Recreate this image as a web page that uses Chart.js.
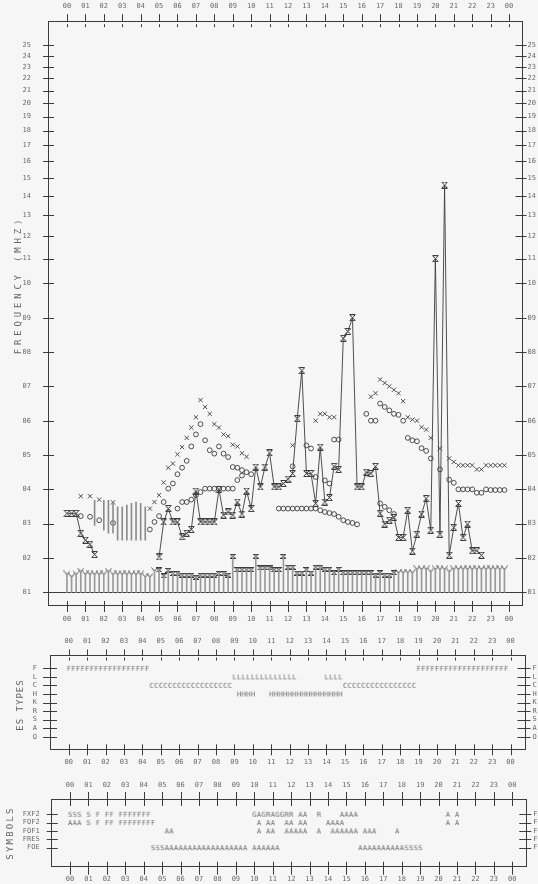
<!DOCTYPE html>
<html>
<head>
<meta charset="utf-8">
<title>Ionospheric daily summary</title>
<script src="https://cdn.jsdelivr.net/npm/chart.js@4.4.1/dist/chart.umd.min.js"></script>
<style>
  html, body { margin: 0; background: #f6f6f6; }
  #page { position: relative; width: 538px; height: 884px; overflow: hidden; }
  canvas { position: absolute; left: 0; }
  .title { position: absolute; color: #666; font: 9px "DejaVu Sans Mono", monospace; white-space: nowrap; transform: translate(-50%, -50%) rotate(-90deg); }
</style>
</head>
<body>
<div id="page">
  <canvas id="freq" width="538" height="632" style="top:0"></canvas>
  <canvas id="estypes" width="538" height="138" style="top:632px"></canvas>
  <canvas id="symbols" width="538" height="114" style="top:770px"></canvas>
  <div class="title" style="left:18px; top:285px; letter-spacing:3.8px">FREQUENCY (MHZ)</div>
  <div class="title" style="left:20px; top:705px; letter-spacing:1px">ES TYPES</div>
  <div class="title" style="left:10px; top:833px; letter-spacing:2.2px">SYMBOLS</div>
</div>
<script>
// ---- data -------------------------------------------------------------
var HOUR_TICKS = [0,1,2,3,4,5,6,7,8,9,10,11,12,13,14,15,16,17,18,19,20,21,22,23,24];
var HOUR_LABELS = ['00','01','02','03','04','05','06','07','08','09','10','11','12',
                   '13','14','15','16','17','18','19','20','21','22','23','00'];
var MHZ_TICKS = [1,2,3,4,5,6,7,8,9,10,11,12,13,14,15,16,17,18,19,20,21,22,23,24,25];
var ES_TYPE_ROWS = ['F','L','C','H','K','R','S','A','O'];
var SYMBOL_ROWS = ['FXF2','FOF2','FOF1','FRES','FOE'];

// fxF2 (x), foF2 (o), foF1 (o) : [hour, MHz]
var fxF2 = [[0.75,3.8],[1.25,3.8],[1.75,3.7],[2.5,3.62],
  [4.5,3.44],[4.75,3.63],[5,3.83],[5.25,4.2],[5.5,4.63],[5.75,4.75],[6,5.02],[6.25,5.23],
  [6.5,5.5],[6.75,5.8],[7,6.1],[7.25,6.6],[7.5,6.4],[7.75,6.2],[8,5.9],[8.25,5.8],[8.5,5.6],
  [8.75,5.55],[9,5.3],[9.25,5.25],[9.5,5.05],[9.75,4.95],
  [12.25,5.28],[13.5,6.0],[13.75,6.2],[14,6.2],[14.25,6.1],[14.5,6.1],
  [16.5,6.7],[16.75,6.8],[17,7.2],[17.25,7.1],[17.5,7.0],[17.75,6.9],
  [18,6.8],[18.25,6.57],[18.5,6.1],[18.75,6.03],[19,6.0],[19.25,5.81],[19.5,5.74],[19.75,5.5],
  [20.25,5.19],[20.75,4.9],[21,4.8],[21.25,4.7],[21.5,4.7],[21.75,4.7],[22,4.7],[22.25,4.58],
  [22.5,4.58],[22.75,4.7],[23,4.7],[23.25,4.7],[23.5,4.7],[23.75,4.7]];
var foF2 = [[0.75,3.22],[1.25,3.2],[1.75,3.1],[2.5,3.02],
  [4.5,2.83],[4.75,3.05],[5,3.22],[5.25,3.63],[5.5,4.02],[5.75,4.17],[6,4.44],[6.25,4.63],
  [6.5,4.83],[6.75,5.25],[7,5.6],[7.25,5.9],[7.5,5.43],[7.75,5.14],[8,5.04],[8.25,5.25],
  [8.5,5.04],[8.75,4.94],[9,4.65],[9.25,4.63],[9.5,4.56],[9.75,4.5],[10,4.44],
  [12.25,4.67],[13,5.28],[13.25,5.19],[13.5,4.36],[14,4.26],[14.25,4.17],[14.5,5.45],[14.75,5.45],
  [16.25,6.2],[16.5,6.0],[16.75,6.0],[17,6.5],[17.25,6.4],[17.5,6.3],[17.75,6.2],
  [18,6.17],[18.25,6.0],[18.5,5.5],[18.75,5.43],[19,5.4],[19.25,5.2],[19.5,5.12],[19.75,4.9],
  [20.25,4.58],[20.75,4.28],[21,4.19],[21.25,4.0],[21.5,4.0],[21.75,4.0],[22,4.0],[22.25,3.9],
  [22.5,3.9],[22.75,4.0],[23,3.98],[23.25,3.98],[23.5,3.98],[23.75,3.98]];
var foF1 = [[6,3.44],[6.25,3.63],[6.5,3.63],[6.75,3.7],[7,3.83],[7.25,3.92],[7.5,4.02],
  [7.75,4.02],[8,4.02],[8.25,4.02],[8.5,4.02],[8.75,4.02],[9,4.02],[9.25,4.27],[9.5,4.4],
  [11.5,3.44],[11.75,3.44],[12,3.44],[12.25,3.44],[12.5,3.44],[12.75,3.44],[13,3.44],[13.25,3.44],
  [13.5,3.44],[13.75,3.39],[14,3.34],[14.25,3.31],[14.5,3.28],[14.75,3.2],[15,3.1],[15.25,3.05],
  [15.5,3.02],[15.75,2.98],[17,3.59],[17.25,3.49],[17.5,3.39],[17.75,3.28]];

// top Es frequency, joined by a line (null = break)
var foEs = [[0,3.3],[0.25,3.3],[0.5,3.3],[0.75,2.72],[1,2.52],[1.25,2.4],[1.5,2.1],[1.75,null],
  [5,2.03],[5.25,3.05],[5.5,3.44],[5.75,3.05],[6,3.05],[6.25,2.62],[6.5,2.72],[6.75,2.83],
  [7,3.95],[7.25,3.05],[7.5,3.05],[7.75,3.05],[8,3.05],[8.25,4.0],[8.5,3.25],[8.75,3.34],
  [9,3.25],[9.25,3.63],[9.5,3.28],[9.75,3.95],[10,3.44],[10.25,4.65],[10.5,4.07],[10.75,4.65],
  [11,5.06],[11.25,4.07],[11.5,4.07],[11.75,4.17],[12,4.3],[12.25,4.46],[12.5,6.06],[12.75,7.46],
  [13,4.46],[13.25,4.46],[13.5,3.59],[13.75,5.23],[14,3.63],[14.25,3.76],[14.5,4.67],[14.75,4.58],
  [15,8.4],[15.25,8.6],[15.5,9.0],[15.75,4.07],[16,4.07],[16.25,4.5],[16.5,4.46],[16.75,4.67],
  [17,3.3],[17.25,2.99],[17.5,3.1],[17.75,3.18],[18,2.6],[18.25,2.6],[18.5,3.39],[18.75,2.2],
  [19,2.69],[19.25,3.28],[19.5,3.73],[19.75,2.81],[20,11.0],[20.25,2.69],[20.5,14.6],[20.75,2.08],
  [21,2.89],[21.25,3.59],[21.5,2.6],[21.75,2.99],[22,2.21],[22.25,2.21],[22.5,2.08]];

// spread F range : [hour, low MHz, high MHz]
var spreadF = [[1.5,2.95,3.68],[2,2.81,3.68],[2.25,2.72,3.68],[2.5,2.72,3.62],[2.75,2.52,3.49],
  [3,2.52,3.49],[3.25,2.52,3.54],[3.5,2.52,3.59],[3.75,2.52,3.63],[4,2.52,3.59],[4.25,2.52,3.49]];

// fmin every quarter hour from 00:00
var fmin = [1.55,1.48,1.55,1.63,1.55,1.55,1.55,1.55,1.55,1.63,1.55,1.55,1.55,1.55,1.55,1.55,
  1.55,1.48,1.48,1.65,1.65,1.48,1.64,1.55,1.55,1.5,1.5,1.5,1.44,1.5,1.5,1.5,
  1.5,1.55,1.55,1.5,2.05,1.66,1.66,1.66,1.66,2.05,1.71,1.71,1.71,1.66,1.66,2.05,
  1.73,1.73,1.56,1.56,1.66,1.56,1.73,1.73,1.67,1.67,1.57,1.67,1.57,1.57,1.57,1.57,
  1.57,1.57,1.57,1.5,1.57,1.5,1.5,1.57,1.6,1.6,1.6,1.6,1.7,1.7,1.7,1.63,
  1.7,1.7,1.7,1.63,1.7,1.7,1.7,1.7,1.7,1.7,1.7,1.7,1.7,1.7,1.7,1.7];

// letter runs: [row, first quarter-hour index, text]
var esTypeRuns = [['F',0,'FFFFFFFFFFFFFFFFFF'],['F',76,'FFFFFFFFFFFFFFFFFFFF'],
  ['L',36,'LLLLLLLLLLLLLL'],['L',56,'LLLL'],
  ['C',18,'CCCCCCCCCCCCCCCCCC'],['C',60,'CCCCCCCCCCCCCCCC'],
  ['H',37,'HHHH'],['H',44,'HHHHHHHHHHHHHHHH']];
var symbolRuns = [['FXF2',0,'SSS S F FF FFFFFFF'],['FXF2',40,'GAGRAGGRR AA  R    AAAA'],['FXF2',82,'A A'],
  ['FOF2',0,'AAA S F FF FFFFFFFF'],['FOF2',41,'A AA  AA AA    AAAA'],['FOF2',82,'A A'],
  ['FOF1',21,'AA'],['FOF1',41,'A AA  AAAAA  A  AAAAAA AAA    A'],
  ['FOE',18,'SSSAAAAAAAAAAAAAAAAAA'],['FOE',40,'AAAAAA'],['FOE',63,'AAAAAAAAAASSSS']];

// ---- look -------------------------------------------------------------
var INK = '#3c3c3c';
var TEXT = '#6a6a6a';
var TICK_FONT = { family: 'DejaVu Sans Mono', size: 7 };

function glyph(w, h, draw) {
  var c = document.createElement('canvas');
  c.width = w; c.height = h;
  var g = c.getContext('2d');
  g.strokeStyle = INK; g.fillStyle = TEXT; g.lineWidth = 1;
  draw(g);
  return c;
}
function letter(ch) {
  return glyph(6, 9, function (g) {
    g.font = '7px "DejaVu Sans Mono"';
    g.textAlign = 'center'; g.textBaseline = 'middle';
    g.fillText(ch, 3, 5);
  });
}
var HOURGLASS = glyph(7, 7, function (g) {
  g.beginPath();
  g.moveTo(0.5, 0.5); g.lineTo(6.5, 0.5); g.moveTo(0.5, 6.5); g.lineTo(6.5, 6.5);
  g.moveTo(1, 1); g.lineTo(6, 6); g.moveTo(6, 1); g.lineTo(1, 6);
  g.stroke();
});
var SMALL_HOURGLASS = glyph(6, 5, function (g) {
  g.beginPath();
  g.moveTo(0, 0.5); g.lineTo(6, 0.5); g.moveTo(0, 4.5); g.lineTo(6, 4.5);
  g.moveTo(0.5, 0.5); g.lineTo(5.5, 4.5); g.moveTo(5.5, 0.5); g.lineTo(0.5, 4.5);
  g.stroke();
});
var VEE = glyph(7, 6, function (g) {
  g.strokeStyle = '#555';
  g.beginPath();
  g.moveTo(0.5, 0.5); g.lineTo(3.5, 4.5); g.lineTo(6.5, 0.5);
  g.stroke();
});

// linear up to 10 MHz, logarithmic above (as on the ionogram summary)
var DECADE = 17.44;
class LinLogScale extends Chart.LinearScale {
  static id = 'linlog';
  static defaults = Chart.LinearScale.defaults;
  fwd(v) { return v <= 10 ? v : 10 + DECADE * Math.log10(v / 10); }
  back(u) { return u <= 10 ? u : 10 * Math.pow(10, (u - 10) / DECADE); }
  configure() {
    super.configure();
    this._u0 = this.fwd(this.min);
    this._u1 = this.fwd(this.max);
  }
  getPixelForValue(v) {
    if (v === null || v === undefined || isNaN(v)) return NaN;
    return this.getPixelForDecimal((this.fwd(v) - this._u0) / (this._u1 - this._u0));
  }
  getValueForPixel(p) {
    return this.back(this._u0 + this.getDecimalForPixel(p) * (this._u1 - this._u0));
  }
}
Chart.register(LinLogScale);

// tick marks crossing the frame: [outside, inside from, inside to]
var tickMarks = {
  id: 'tickMarks',
  afterDraw: function (chart, args, opts) {
    var ctx = chart.ctx, a = chart.chartArea;
    ctx.save();
    ctx.strokeStyle = INK; ctx.lineWidth = 1;
    ctx.beginPath();
    Object.keys(opts.marks || {}).forEach(function (id) {
      var s = chart.scales[id], m = opts.marks[id];
      s.ticks.forEach(function (t, i) {
        var p = Math.round(s.getPixelForTick(i)) + 0.5;
        if (s.position === 'left') {
          ctx.moveTo(a.left - m[0], p); ctx.lineTo(a.left + m[2], p);
        } else if (s.position === 'right') {
          ctx.moveTo(a.right - m[2], p); ctx.lineTo(a.right + m[0], p);
        } else if (s.position === 'top') {
          ctx.moveTo(p, a.top - m[0]); ctx.lineTo(p, a.top);
          ctx.moveTo(p, a.top + m[1]); ctx.lineTo(p, a.top + m[2]);
        } else {
          ctx.moveTo(p, a.bottom - m[2]); ctx.lineTo(p, a.bottom + m[0]);
        }
      });
    });
    ctx.stroke();
    ctx.restore();
  }
};

function hourAxis(position, min, max, size, pad) {
  return {
    type: 'linear', position: position, min: min, max: max, bounds: 'data', offset: false,
    afterBuildTicks: function (s) { s.ticks = HOUR_TICKS.map(function (v) { return { value: v }; }); },
    afterFit: function (s) { s.height = size; },
    grid: { display: false, drawTicks: false },
    border: { display: true, color: INK, width: 1 },
    ticks: { autoSkip: false, maxRotation: 0, padding: pad, color: TEXT, font: TICK_FONT,
             callback: function (v) { return HOUR_LABELS[v]; } }
  };
}
function rowAxis(position, labels, min, max, size, pad) {
  return {
    type: 'linear', position: position, min: min, max: max, reverse: true, bounds: 'data',
    afterBuildTicks: function (s) { s.ticks = labels.map(function (l, i) { return { value: i }; }); },
    afterFit: function (s) { s.width = size; },
    grid: { display: false, drawTicks: false },
    border: { display: true, color: INK, width: 1 },
    ticks: { autoSkip: false, padding: pad, color: TEXT, font: TICK_FONT,
             callback: function (v) { return labels[v]; } }
  };
}
function freqAxis(position, size, pad) {
  return {
    type: 'linlog', position: position, min: 0.63, max: 27.42, bounds: 'data',
    afterBuildTicks: function (s) { s.ticks = MHZ_TICKS.map(function (v) { return { value: v }; }); },
    afterFit: function (s) { s.width = size; },
    grid: { display: position === 'left', drawTicks: false, lineWidth: 1,
            color: function (c) { return c.tick && c.tick.value === 1 ? INK : 'rgba(0,0,0,0)'; } },
    border: { display: true, color: INK, width: 1 },
    ticks: { autoSkip: false, padding: pad, color: TEXT, font: TICK_FONT,
             callback: function (v) { return (v < 10 ? '0' : '') + v; } }
  };
}
function pts(list) { return list.map(function (p) { return { x: p[0], y: p[1] }; }); }
function runsToDatasets(runs, rows) {
  var byChar = {};
  runs.forEach(function (r) {
    var row = rows.indexOf(r[0]);
    r[2].split('').forEach(function (ch, k) {
      if (ch === ' ') return;
      (byChar[ch] = byChar[ch] || []).push({ x: (r[1] + k) / 4, y: row });
    });
  });
  return Object.keys(byChar).map(function (ch) {
    return { type: 'scatter', data: byChar[ch], pointStyle: letter(ch), pointRadius: 3 };
  });
}
var common = {
  responsive: false, devicePixelRatio: 1, animation: false,
  layout: { padding: 0, autoPadding: false },
  plugins: { legend: { display: false }, tooltip: { enabled: false } }
};
function opts(scales, marks) {
  return Object.assign({}, common, {
    scales: scales,
    plugins: Object.assign({}, common.plugins, { tickMarks: { marks: marks } })
  });
}

// ---- frequency plot ---------------------------------------------------
var DAY_FROM = 20, DAY_TO = 71;
new Chart(document.getElementById('freq'), {
  type: 'scatter',
  data: {
    datasets: [
      { type: 'bar', data: spreadF.map(function (p) { return { x: p[0], y: [p[1], p[2]] }; }),
        backgroundColor: '#8c8c8c', barThickness: 1, grouped: false, borderWidth: 0 },
      { type: 'bar', data: fmin.map(function (v, i) { return { x: i / 4, y: [1, v] }; }),
        backgroundColor: '#999999', barThickness: 1, grouped: false, borderWidth: 0 },
      { type: 'scatter', data: fmin.map(function (v, i) { return { x: i / 4, y: v }; }),
        pointStyle: function (c) {
          var i = c.dataIndex, v = fmin[i];
          return (v > 1.9 || (i >= DAY_FROM && i <= DAY_TO)) ? SMALL_HOURGLASS : VEE;
        } },
      { type: 'line', data: pts(foEs), borderColor: INK, borderWidth: 0.9, tension: 0,
        spanGaps: false, pointStyle: HOURGLASS, pointRadius: 3 },
      { type: 'scatter', data: pts(foF2), pointStyle: 'circle', pointRadius: 2.4,
        borderColor: INK, borderWidth: 0.9, backgroundColor: 'rgba(0,0,0,0)' },
      { type: 'scatter', data: pts(foF1), pointStyle: 'circle', pointRadius: 2.4,
        borderColor: INK, borderWidth: 0.9, backgroundColor: 'rgba(0,0,0,0)' },
      { type: 'scatter', data: pts(fxF2), pointStyle: 'crossRot', pointRadius: 3,
        borderColor: INK, borderWidth: 0.9 }
    ]
  },
  options: opts({
    x: hourAxis('bottom', -1.03, 24.73, 27, 10),
    xTop: hourAxis('top', -1.03, 24.73, 21, 11),
    y: freqAxis('left', 48, 17),
    yRight: freqAxis('right', 15.5, 5)
  }, { x: [7, 0, 4], xTop: [7, 3, 6], y: [5, 0, 6], yRight: [4, 0, 7] }),
  plugins: [tickMarks]
});

// ---- Es types ---------------------------------------------------------
new Chart(document.getElementById('estypes'), {
  type: 'scatter',
  data: { datasets: runsToDatasets(esTypeRuns, ES_TYPE_ROWS) },
  options: opts({
    x: hourAxis('bottom', -1.016, 24.81, 20.7, 9),
    xTop: hourAxis('top', -1.016, 24.81, 23.5, 10),
    y: rowAxis('left', ES_TYPE_ROWS, -1.5, 9.47, 50, 13),
    yRight: rowAxis('right', ES_TYPE_ROWS, -1.5, 9.47, 12.5, 7)
  }, { x: [6, 0, 5], xTop: [6, 2, 5], y: [7, 0, 7], yRight: [5, 0, 8] }),
  plugins: [tickMarks]
});

// ---- scaling symbols --------------------------------------------------
new Chart(document.getElementById('symbols'), {
  type: 'scatter',
  data: { datasets: runsToDatasets(symbolRuns, SYMBOL_ROWS) },
  options: opts({
    x: hourAxis('bottom', -0.993, 24.76, 17.3, 8),
    xTop: hourAxis('top', -0.993, 24.76, 29, 10),
    y: rowAxis('left', SYMBOL_ROWS, -1.83, 6.28, 51.7, 12),
    yRight: rowAxis('right', SYMBOL_ROWS, -1.83, 6.28, 11.7, 7)
  }, { x: [8, 0, 5], xTop: [7, 0, 7], y: [5, 0, 6], yRight: [5, 0, 7] }),
  plugins: [tickMarks]
});
</script>
</body>
</html>
